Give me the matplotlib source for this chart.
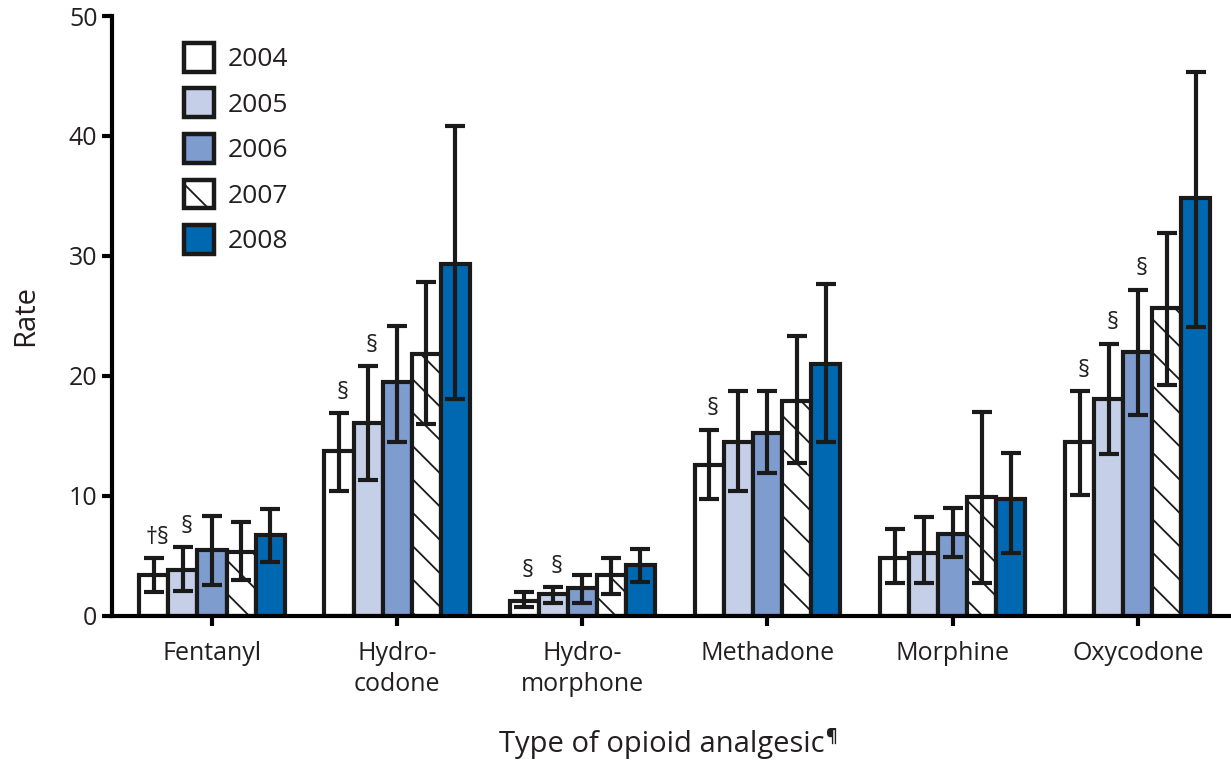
import numpy as np
import matplotlib.pyplot as plt
from matplotlib.patches import Patch

plt.rcParams['font.family'] = ['Open Sans', 'DejaVu Sans']
plt.rcParams['hatch.linewidth'] = 1.3
plt.rcParams['hatch.color'] = '#555555'

drugs = ['Fentanyl', 'Hydro-\ncodone', 'Hydro-\nmorphone', 'Methadone', 'Morphine', 'Oxycodone']
years = ['2004', '2005', '2006', '2007', '2008']

# rate per year, one list per year (order follows drugs)
rate_2004 = [3.4, 13.7, 1.2, 12.6, 4.8, 14.5]
rate_2005 = [3.8, 16.1, 1.8, 14.5, 5.2, 18.1]
rate_2006 = [5.5, 19.5, 2.3, 15.2, 6.8, 22.0]
rate_2007 = [5.3, 21.8, 3.4, 17.9, 9.9, 25.7]
rate_2008 = [6.7, 29.3, 4.2, 21.0, 9.7, 34.8]

lo_2004 = [2.0, 10.4, 0.7, 9.7, 2.7, 10.1]
lo_2005 = [2.1, 11.3, 1.1, 10.4, 2.7, 13.5]
lo_2006 = [2.6, 14.5, 1.1, 11.9, 4.9, 16.7]
lo_2007 = [3.0, 16.0, 1.8, 12.7, 2.7, 19.2]
lo_2008 = [4.5, 18.1, 2.8, 14.5, 5.2, 24.1]

hi_2004 = [4.8, 16.9, 2.0, 15.5, 7.2, 18.7]
hi_2005 = [5.7, 20.8, 2.4, 18.7, 8.2, 22.7]
hi_2006 = [8.3, 24.2, 3.4, 18.7, 9.0, 27.2]
hi_2007 = [7.8, 27.8, 4.8, 23.3, 17.0, 31.9]
hi_2008 = [8.9, 40.8, 5.6, 27.7, 13.6, 45.3]

rates = [rate_2004, rate_2005, rate_2006, rate_2007, rate_2008]
lows = [lo_2004, lo_2005, lo_2006, lo_2007, lo_2008]
highs = [hi_2004, hi_2005, hi_2006, hi_2007, hi_2008]

# footnote markers: (drug index, year index, text)
notes = [(0, 0, '†§'), (0, 1, '§'), (1, 0, '§'), (1, 1, '§'), (2, 0, '§'), (2, 1, '§'),
         (3, 0, '§'), (5, 0, '§'), (5, 1, '§'), (5, 2, '§')]

colors = ['white', '#c5cfe8', '#7f9ccf', 'white', '#0068b0']
hatches = [None, None, None, '\\', None]
txt = '#231f20'
edge = '#1a1a1a'

fig = plt.figure(figsize=(12.31, 7.64), dpi=100)
ax = fig.add_axes([0.091, 0.194, 0.907, 0.785])

x = np.arange(len(drugs))
w = 0.157
for i in range(len(years)):
    xs = x + (i - 2) * w
    r = np.array(rates[i])
    err = [r - np.array(lows[i]), np.array(highs[i]) - r]
    ax.bar(xs, r, w, color=colors[i], edgecolor=edge, linewidth=3.0,
           hatch=hatches[i], zorder=2)
    ax.errorbar(xs, r, yerr=err, fmt='none', ecolor=edge, elinewidth=3.0,
                capsize=7, capthick=3.0, zorder=3)

for d, yi, s in notes:
    ax.text(x[d] + (yi - 2) * w + 0.02, highs[yi][d] + 0.7, s, ha='center', va='bottom',
            fontsize=17, color=txt)

ax.set_xlim(-0.54, 5.49)
ax.set_ylim(0, 50)
ax.set_yticks(range(0, 51, 10))
ax.set_xticks(x)
ax.set_xticklabels(drugs, linespacing=1.35)
for sp in ['top', 'right']:
    ax.spines[sp].set_visible(False)
for sp in ['left', 'bottom']:
    ax.spines[sp].set_linewidth(3.0)
ax.tick_params(axis='both', width=3.0, length=7, labelsize=18, labelcolor=txt)
ax.tick_params(axis='x', pad=11)
ax.set_ylabel('Rate', fontsize=21, color=txt, labelpad=21)
xl = ax.set_xlabel('Type of opioid analgesic', fontsize=21, color=txt, va='center')
ax.xaxis.set_label_coords(0.492, -0.215)

handles = [Patch(facecolor=colors[i], edgecolor=edge, linewidth=3.2, hatch=hatches[i])
           for i in range(len(years))]
ax.legend(handles, years, loc='upper left', bbox_to_anchor=(0.043, 0.995), frameon=False,
          fontsize=19, handlelength=1.15, handleheight=1.3, labelspacing=0.62,
          handletextpad=0.5, labelcolor=txt)

# pilcrow as a superscript right after the x label
fig.canvas.draw()
bb = xl.get_window_extent()
fig.text((bb.x1 + 1) / fig.bbox.width, (bb.y1 + 2) / fig.bbox.height, '¶',
         fontsize=13, color=txt, ha='left', va='top', fontweight='bold')

fig.savefig('out.png', dpi=100)
